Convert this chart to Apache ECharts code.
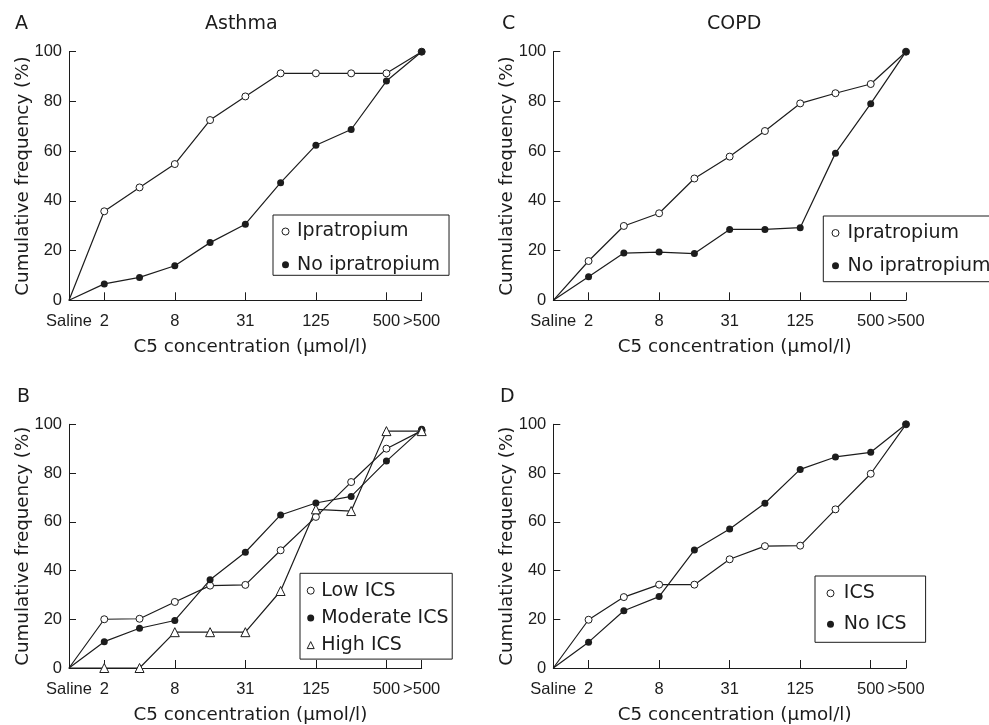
<!DOCTYPE html>
<html><head><meta charset="utf-8">
<script src="https://cdn.jsdelivr.net/npm/echarts@6/dist/echarts.min.js"></script>
<style>html,body{margin:0;padding:0;background:#fff}#c{width:989px;height:725px}</style>
</head><body><div id="c"></div>
<script>
// ---- data ----
const categories = ['Saline','2','4','8','16','31','63','125','250','500','>500'];
const labeledIdx = [0,1,3,5,7,9,10];
const tickIdx = [1,3,5,7,9,10];
const yTicks = [0,20,40,60,80,100];

// Panel A: Asthma
const asthmaIpratropium   = [0,35.8,45.4,54.8,72.5,82.0,91.3,91.3,91.3,91.3,100];
const asthmaNoIpratropium = [0,6.6,9.2,13.9,23.2,30.6,47.3,62.4,68.7,88.2,100];
// Panel B: Asthma by ICS dose
const asthmaLowICS      = [0,20.0,20.2,27.1,33.8,34.1,48.3,62.0,76.3,90.0,97.4];
const asthmaModerateICS = [0,10.8,16.3,19.5,36.2,47.5,62.8,67.7,70.4,84.9,98.0];
const asthmaHighICS     = [0,0,0,14.7,14.7,14.7,31.6,65.1,64.4,97.2,97.2];
// Panel C: COPD
const copdIpratropium   = [0,15.8,29.9,35.0,49.0,57.8,68.1,79.2,83.3,87.0,100];
const copdNoIpratropium = [0,9.5,19.0,19.4,18.8,28.5,28.5,29.2,59.2,79.1,100];
// Panel D: COPD by ICS
const copdICS   = [0,19.8,29.1,34.2,34.2,44.6,50.0,50.2,65.1,79.7,100];
const copdNoICS = [0,10.6,23.5,29.3,48.4,57.0,67.6,81.5,86.6,88.5,100];

// ---- styling ----
const FONT = 'DejaVu Sans';
const TICKFONT = 'Liberation Sans';
const INK = '#1c1c1c';
const grids = [
  {left:69,  top:51.7,  width:352.7, height:248.6}, // A
  {left:69,  top:424.3, width:352.7, height:249.2}, // B
  {left:553.3, top:51.7,  width:352.7, height:248.6}, // C
  {left:553.3, top:424.3, width:352.7, height:249.2}  // D
];

function xAx(i){
  return {
    type:'category', gridIndex:i, data:categories, boundaryGap:false,
    axisLine:{show:true, lineStyle:{color:INK, width:1}},
    axisTick:{show:true, inside:true, length:8, lineStyle:{color:INK, width:1},
      interval:(idx)=>tickIdx.includes(idx)},
    axisLabel:{interval:0, margin:13, fontSize:16.5, color:INK, fontFamily:TICKFONT,
      formatter:(v, idx)=>labeledIdx.includes(idx) ? v : ''},
    splitLine:{show:false},
    name:'C5 concentration (μmol/l)', nameLocation:'middle', nameGap:38, nameMoveOverlap:false,
    nameTextStyle:{fontSize:18.3, color:INK, fontFamily:FONT, padding:[0,0,0,10]}
  };
}
function yAx(i){
  return {
    type:'value', gridIndex:i, min:0, max:100, interval:20,
    axisLine:{show:true, lineStyle:{color:INK, width:1}},
    axisTick:{show:true, inside:true, length:7, lineStyle:{color:INK, width:1}},
    axisLabel:{margin:7, fontSize:16.5, color:INK, fontFamily:TICKFONT,
      formatter:(v)=>yTicks.includes(v)?String(v):''},
    splitLine:{show:false},
    name:'Cumulative frequency (%)', nameLocation:'middle', nameGap:37, nameRotate:90, nameMoveOverlap:false,
    nameTextStyle:{fontSize:18.3, color:INK, fontFamily:FONT}
  };
}
function ser(name, values, gi, kind){
  // the saline origin point carries no marker in the reference
  const data = values.map((v, k) => k === 0 ? {value:v, symbol:'none'} : v);
  const base = {
    type:'line', name, data, xAxisIndex:gi, yAxisIndex:gi,
    lineStyle:{color:INK, width:1.2},
    emphasis:{disabled:true}, silent:true, animation:false, z:3
  };
  if (kind==='open'){
    base.symbol='circle'; base.symbolSize=7;
    base.itemStyle={color:'#fff', borderColor:INK, borderWidth:1};
  } else if (kind==='fill'){
    base.symbol='circle'; base.symbolSize=7;
    base.itemStyle={color:INK, borderColor:INK, borderWidth:0};
  } else {
    base.symbol='triangle'; base.symbolSize=9;
    base.itemStyle={color:'#fff', borderColor:INK, borderWidth:1};
  }
  return base;
}
const openItem = {color:'#fff', borderColor:INK, borderWidth:1};
const fillItem = {color:INK, borderColor:INK, borderWidth:0};
function leg(left, top, padding, gap, items, textPad){
  return {
    left, top, orient:'vertical', padding, itemGap:gap,
    itemWidth:7, itemHeight:7, selectedMode:false,
    borderColor:INK, borderWidth:1, backgroundColor:'#fff',
    textStyle:{fontSize:19, color:INK, fontFamily:FONT, padding:[0,0,0,textPad]},
    data:items
  };
}
const titleStyle = {fontSize:19, fontWeight:'normal', color:INK, fontFamily:FONT};

const option = {
  backgroundColor:'#fff',
  animation:false,
  title:[
    {text:'A', left:15, top:15, padding:0, textStyle:titleStyle},
    {text:'Asthma', left:205, top:15, padding:0, textStyle:titleStyle},
    {text:'C', left:502, top:15, padding:0, textStyle:titleStyle},
    {text:'COPD', left:707, top:15, padding:0, textStyle:titleStyle},
    {text:'B', left:17, top:388, padding:0, textStyle:titleStyle},
    {text:'D', left:500, top:388, padding:0, textStyle:titleStyle}
  ],
  grid:grids,
  xAxis:[xAx(0),xAx(1),xAx(2),xAx(3)],
  yAxis:[yAx(0),yAx(1),yAx(2),yAx(3)],
  legend:[
    leg(273, 215, [7,9,1,8.5], 14.3, [
      {name:'Ipratropium', icon:'circle', itemStyle:openItem},
      {name:'No ipratropium', icon:'circle', itemStyle:fillItem}], 3),
    leg(823.3, 216, [7.5,20,6.5,8.2], 13.7, [
      {name:'Ipratropium', icon:'circle', itemStyle:openItem},
      {name:'No ipratropium', icon:'circle', itemStyle:fillItem}], 3.5),
    leg(300, 573.3, [7.9,3.7,4.5,6.7], 8.2, [
      {name:'Low ICS', icon:'circle', itemStyle:openItem},
      {name:'Moderate ICS', icon:'circle', itemStyle:fillItem},
      {name:'High ICS', icon:'triangle', itemStyle:openItem}], 2),
    leg(815, 576, [7.8,19,8.5,11.5], 12, [
      {name:'ICS', icon:'circle', itemStyle:openItem},
      {name:'No ICS', icon:'circle', itemStyle:fillItem}], 4.8)
  ],
  series:[
    ser('Ipratropium', asthmaIpratropium, 0, 'open'),
    ser('No ipratropium', asthmaNoIpratropium, 0, 'fill'),
    ser('Low ICS', asthmaLowICS, 1, 'open'),
    ser('Moderate ICS', asthmaModerateICS, 1, 'fill'),
    ser('High ICS', asthmaHighICS, 1, 'tri'),
    ser('Ipratropium', copdIpratropium, 2, 'open'),
    ser('No ipratropium', copdNoIpratropium, 2, 'fill'),
    ser('ICS', copdICS, 3, 'open'),
    ser('No ICS', copdNoICS, 3, 'fill')
  ]
};
const chart = echarts.init(document.getElementById('c'), null, {renderer:'canvas'});
chart.setOption(option);
</script>
</body></html>
